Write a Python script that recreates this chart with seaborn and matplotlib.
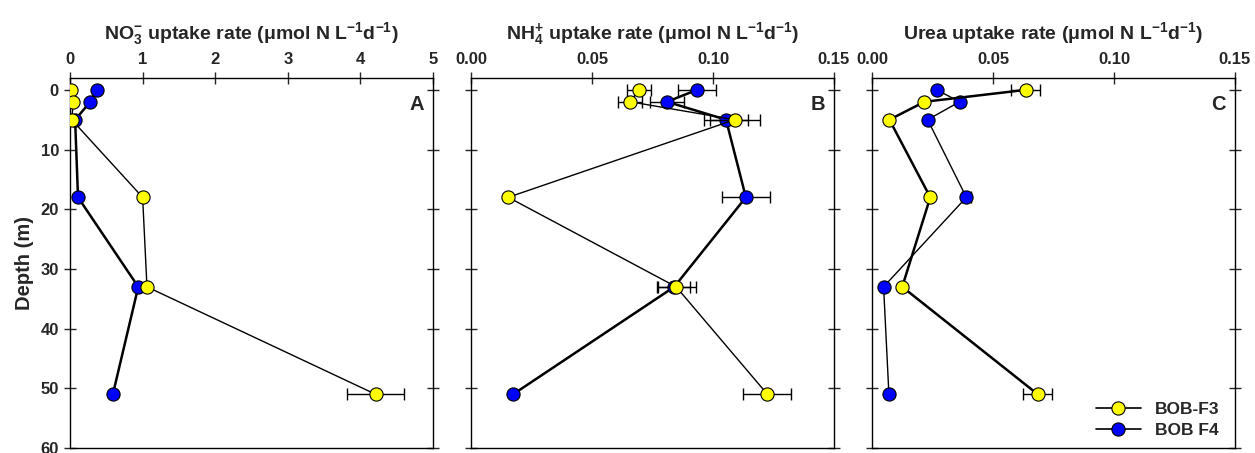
import matplotlib
matplotlib.use("Agg")
import matplotlib.pyplot as plt
from matplotlib.lines import Line2D
import seaborn as sns

# sampling depths (m)
depth = [0, 2, 5, 18, 33, 51]

# panel A - nitrate
no3_f3 = [0.014, 0.046, 0.023, 1.00, 1.06, 4.21]
no3_f3_err = [0, 0, 0, 0, 0, 0.39]
no3_f4 = [0.37, 0.28, 0.07, 0.11, 0.94, 0.59]
no3_f4_err = [0, 0, 0, 0, 0, 0]

# panel B - ammonium
nh4_f3 = [0.0694, 0.0658, 0.109, 0.0154, 0.0848, 0.1225]
nh4_f3_err = [0.0048, 0.0050, 0.0104, 0, 0.0080, 0.0099]
nh4_f4 = [0.0934, 0.081, 0.1054, 0.1136, 0.0840, 0.0174]
nh4_f4_err = [0.0079, 0.0072, 0.0090, 0.0100, 0.0066, 0]

# panel C - urea
urea_f3 = [0.0636, 0.0217, 0.0072, 0.0241, 0.0125, 0.0685]
urea_f3_err = [0.0060, 0, 0, 0, 0, 0.0060]
urea_f4 = [0.0268, 0.0362, 0.0230, 0.0390, 0.0048, 0.0070]
urea_f4_err = [0, 0, 0, 0.0020, 0, 0]

series_names = ["BOB-F3", "BOB F4"]
titles = [r"NO$_3^{-}$ uptake rate (μmol N L$^{-1}$d$^{-1}$)",
          r"NH$_4^{+}$ uptake rate (μmol N L$^{-1}$d$^{-1}$)",
          r"Urea uptake rate (μmol N L$^{-1}$d$^{-1}$)"]
panel_letters = ["A", "B", "C"]
xticks_list = [[0, 1, 2, 3, 4, 5],
               [0.0, 0.05, 0.10, 0.15],
               [0.0, 0.05, 0.10, 0.15]]
xtick_labels = [["0", "1", "2", "3", "4", "5"],
                ["0.00", "0.05", "0.10", "0.15"],
                ["0.00", "0.05", "0.10", "0.15"]]

sns.set_style("ticks")
plt.rcParams['font.family'] = ['Liberation Sans', 'DejaVu Sans']
plt.rcParams['font.weight'] = 'bold'
plt.rcParams['mathtext.default'] = 'regular'

fig = plt.figure(figsize=(12.55, 4.53), dpi=100)
lefts = [0.0558, 0.3753, 0.6948]
axes = [fig.add_axes([l, 0.011, 0.2892, 0.817]) for l in lefts]

data = [
    (no3_f3, no3_f3_err, no3_f4, no3_f4_err),
    (nh4_f3, nh4_f3_err, nh4_f4, nh4_f4_err),
    (urea_f3, urea_f3_err, urea_f4, urea_f4_err),
]
# line weights differ a bit between panels in the original
widths = [(1.0, 1.8), (1.0, 1.8), (1.8, 1.0)]
colors = ["#FFFF00", "#0000FF"]

for i, ax in enumerate(axes):
    f3, f3e, f4, f4e = data[i]
    for vals, errs, col, lw, z in [(f4, f4e, colors[1], widths[i][1], 3),
                                   (f3, f3e, colors[0], widths[i][0], 4)]:
        ax.errorbar(vals, depth, xerr=errs, fmt='none', ecolor='black',
                    elinewidth=1, capsize=4, capthick=1, zorder=z)
        sns.lineplot(x=vals, y=depth, ax=ax, sort=False, estimator=None,
                     orient='y', color='black', linewidth=lw, marker='o',
                     markersize=9.5, markerfacecolor=col,
                     markeredgecolor='black', markeredgewidth=0.8, zorder=z)
    ax.set_ylim(60, -2)
    ax.set_xlim(xticks_list[i][0], xticks_list[i][-1])
    ax.set_xticks(xticks_list[i])
    ax.set_xticklabels(xtick_labels[i])
    ax.set_yticks([0, 10, 20, 30, 40, 50, 60])
    ax.xaxis.tick_top()
    ax.xaxis.set_label_position('top')
    ax.set_xlabel(titles[i], fontsize=14, fontweight='bold', labelpad=10)
    ax.tick_params(axis='x', direction='inout', length=9, width=1,
                   labelsize=12, pad=3)
    ax.tick_params(axis='y', direction='inout', length=9, width=1,
                   labelsize=12, right=True, left=True)
    for s in ax.spines.values():
        s.set_visible(True)
        s.set_linewidth(1)
        s.set_color('black')
    if i == 0:
        ax.set_ylabel("Depth (m)", fontsize=14.5, fontweight='bold', labelpad=5)
    else:
        ax.set_yticklabels([])
        ax.set_ylabel("")
    ax.text(0.975, 0.955, panel_letters[i], transform=ax.transAxes,
            ha='right', va='top', fontsize=14.5, fontweight='bold')
    if ax.get_legend() is not None:
        ax.get_legend().remove()

handles = [Line2D([], [], color='black', lw=1.2, marker='o', markersize=9.5,
                  markerfacecolor=c, markeredgecolor='black',
                  markeredgewidth=0.8) for c in colors]
axes[2].legend(handles, series_names, loc='lower right', frameon=False,
               fontsize=12.5, handlelength=2.6, borderaxespad=0.2,
               labelspacing=0.3, bbox_to_anchor=(0.985, 0.0))

fig.savefig("out.png", dpi=100)
